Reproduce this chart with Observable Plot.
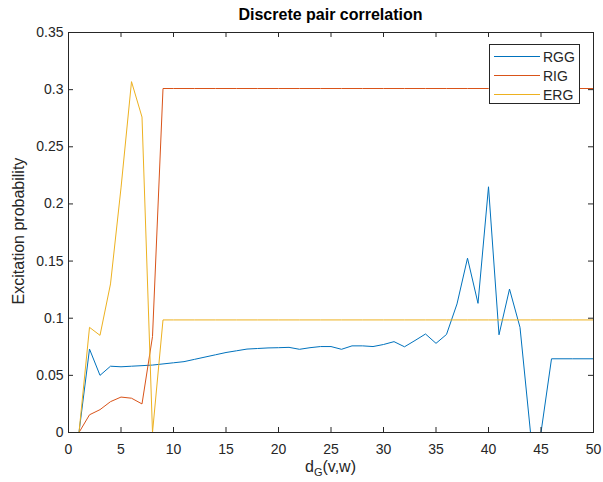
<!DOCTYPE html>
<html>
<head>
<meta charset="utf-8">
<script src="https://cdn.jsdelivr.net/npm/d3@7"></script>
<script src="https://cdn.jsdelivr.net/npm/@observablehq/plot@0.6"></script>
<style>
  body { margin: 0; background: #fff; }
  #wrap { position: relative; width: 603px; height: 482px; font-family: "Liberation Sans", Arial, Helvetica, sans-serif; color: #262626; }
  #wrap svg { position: absolute; left: 0; top: 0; }
  .title { position: absolute; left: 68px; width: 525px; top: 6px; text-align: center; font-weight: bold; font-size: 16px; color: #000; }
  .ylab { position: absolute; left: 19px; top: 231px; transform: translate(-50%, -50%) rotate(-90deg); white-space: nowrap; font-size: 16px; }
  .xlab { position: absolute; left: 68px; width: 525px; top: 459px; text-align: center; font-size: 16px; line-height: 16px; }
  .xlab sub { font-size: 11px; vertical-align: -4px; line-height: 0; }
  .legend { position: absolute; left: 489px; top: 44px; width: 91px; height: 60px; border: 1px solid #262626; background: #fff; box-sizing: border-box; font-size: 14px; }
  .legend .row { position: absolute; left: 4px; height: 17px; display: flex; align-items: center; }
  .legend .sw { width: 46px; height: 0; border-top: 1px solid; margin-right: 3px; }
</style>
</head>
<body>
<div id="wrap"></div>
<script>
const xs = [1,2,3,4,5,6,7,8,9,10,11,12,13,14,15,16,17,18,19,20,21,22,23,24,25,26,27,28,29,30,31,32,33,34,35,36,37,38,39,40,41,42,43,44,45,46,47,48,49,50];
const rgg = [0,0.073,0.050,0.058,0.0575,0.058,0.0585,0.059,0.060,0.061,0.062,0.064,0.066,0.068,0.070,0.0715,0.073,0.0735,0.074,0.0742,0.0745,0.0728,0.0742,0.0752,0.0752,0.0728,0.0758,0.0758,0.0752,0.077,0.0795,0.075,0.0805,0.0862,0.078,0.0858,0.1125,0.1525,0.113,0.215,0.0855,0.1255,0.092,0,0,0.0645,0.0645,0.0645,0.0645,0.0645];
const rig = [0,0.0155,0.020,0.027,0.031,0.030,0.025,0.084,0.301,0.301,0.301,0.301,0.301,0.301,0.301,0.301,0.301,0.301,0.301,0.301,0.301,0.301,0.301,0.301,0.301,0.301,0.301,0.301,0.301,0.301,0.301,0.301,0.301,0.301,0.301,0.301,0.301,0.301,0.301,0.301,0.301,0.301,0.301,0.301,0.301,0.301,0.301,0.301,0.301,0.301];
const erg = [0,0.092,0.085,0.130,0.214,0.307,0.276,0,0.0985,0.0985,0.0985,0.0985,0.0985,0.0985,0.0985,0.0985,0.0985,0.0985,0.0985,0.0985,0.0985,0.0985,0.0985,0.0985,0.0985,0.0985,0.0985,0.0985,0.0985,0.0985,0.0985,0.0985,0.0985,0.0985,0.0985,0.0985,0.0985,0.0985,0.0985,0.0985,0.0985,0.0985,0.0985,0.0985,0.0985,0.0985,0.0985,0.0985,0.0985,0.0985];
const seriesNames = ["RGG", "RIG", "ERG"];
const seriesColors = ["#0072BD", "#D95319", "#EDB120"];
const xTicks = [0,5,10,15,20,25,30,35,40,45,50];
const yTicks = [0,0.05,0.1,0.15,0.2,0.25,0.3,0.35];
const yTickLabels = ["0","0.05","0.1","0.15","0.2","0.25","0.3","0.35"];
const titleText = "Discrete pair correlation";
const yLabelText = "Excitation probability";

const xDomain = [0, 50];
const yDomain = [0, 0.35];
const axisColor = "#262626";
// inward tick length (~5px) expressed in each axis' units
const tickLenY = (yDomain[1] - yDomain[0]) * 5 / 400;
const tickLenX = (xDomain[1] - xDomain[0]) * 5 / 525;

const chart = Plot.plot({
  width: 603,
  height: 482,
  marginLeft: 68,
  marginRight: 10,
  marginTop: 32,
  marginBottom: 50,
  style: { fontFamily: '"Liberation Sans", Arial, Helvetica, sans-serif', fontSize: "14px", color: axisColor, background: "#fff" },
  x: { domain: xDomain },
  y: { domain: yDomain },
  marks: [
    Plot.line(xs, { x: xs, y: rgg, stroke: seriesColors[0], strokeWidth: 1 }),
    Plot.line(xs, { x: xs, y: rig, stroke: seriesColors[1], strokeWidth: 1 }),
    Plot.line(xs, { x: xs, y: erg, stroke: seriesColors[2], strokeWidth: 1 }),
    Plot.frame({ stroke: axisColor, strokeWidth: 1 }),
    Plot.ruleX(xTicks, { x: d => d, y1: yDomain[0], y2: yDomain[0] + tickLenY, stroke: axisColor }),
    Plot.ruleX(xTicks, { x: d => d, y1: yDomain[1] - tickLenY, y2: yDomain[1], stroke: axisColor }),
    Plot.ruleY(yTicks, { y: d => d, x1: xDomain[0], x2: xDomain[0] + tickLenX, stroke: axisColor }),
    Plot.ruleY(yTicks, { y: d => d, x1: xDomain[1] - tickLenX, x2: xDomain[1], stroke: axisColor }),
    Plot.axisX({ ticks: xTicks, tickSize: 0, tickPadding: 12, label: null, fill: axisColor }),
    Plot.axisY({ ticks: yTicks, tickSize: 0, tickPadding: 5, label: null, tickFormat: (d, i) => yTickLabels[i], fill: axisColor })
  ]
});

const wrap = document.getElementById("wrap");
wrap.appendChild(chart);

const t = document.createElement("div"); t.className = "title"; t.textContent = titleText; wrap.appendChild(t);
const yl = document.createElement("div"); yl.className = "ylab"; yl.textContent = yLabelText; wrap.appendChild(yl);
const xl = document.createElement("div"); xl.className = "xlab"; xl.innerHTML = "d<sub>G</sub>(v,w)"; wrap.appendChild(xl);

const lg = document.createElement("div"); lg.className = "legend";
seriesNames.forEach((name, i) => {
  const row = document.createElement("div"); row.className = "row";
  row.style.top = (3 + i * 19) + "px";
  const sw = document.createElement("div"); sw.className = "sw"; sw.style.borderTopColor = seriesColors[i];
  const lab = document.createElement("span"); lab.textContent = name;
  row.appendChild(sw); row.appendChild(lab); lg.appendChild(row);
});
wrap.appendChild(lg);
</script>
</body>
</html>
